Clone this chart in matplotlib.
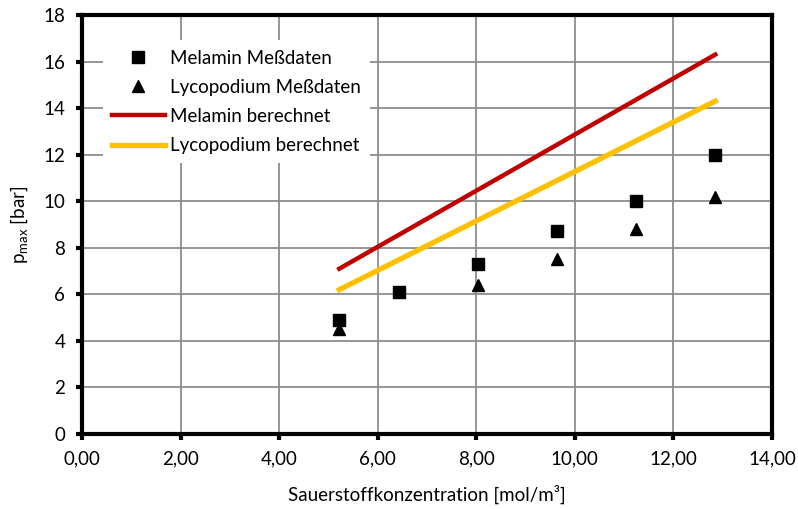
import matplotlib
matplotlib.use("Agg")
import matplotlib.pyplot as plt
from matplotlib.ticker import MultipleLocator, FuncFormatter

plt.rcParams['font.family'] = ['Lato', 'DejaVu Sans']

# Measured maximum explosion pressures
melamin_x = [5.22, 6.43, 8.03, 9.64, 11.24, 12.85]
melamin_p = [4.9, 6.1, 7.3, 8.7, 10.0, 12.0]
lyco_x = [5.22, 8.03, 9.64, 11.24, 12.85]
lyco_p = [4.5, 6.4, 7.5, 8.8, 10.2]

# Calculated pressures (straight lines between end points)
melamin_calc_x = [5.22, 12.85]
melamin_calc_p = [7.1, 16.3]
lyco_calc_x = [5.22, 12.85]
lyco_calc_p = [6.2, 14.3]

fs = 13.5

fig = plt.figure(figsize=(7.98, 5.09), dpi=100)
ax = fig.add_axes([82 / 798, 1 - 434 / 509, 690 / 798, 419 / 509])

ax.plot(melamin_x, melamin_p, linestyle='none', marker='s', color='black',
        markersize=9, label='Melamin Meßdaten', zorder=4)
ax.plot(lyco_x, lyco_p, linestyle='none', marker='^', color='black',
        markersize=9, label='Lycopodium Meßdaten', zorder=4)
ax.plot(melamin_calc_x, melamin_calc_p, color='#C00000', linewidth=3.2,
        label='Melamin berechnet', zorder=3)
ax.plot(lyco_calc_x, lyco_calc_p, color='#FFC000', linewidth=3.8,
        label='Lycopodium berechnet', zorder=3)

ax.set_xlim(0, 14)
ax.set_ylim(0, 18)
ax.xaxis.set_major_locator(MultipleLocator(2))
ax.yaxis.set_major_locator(MultipleLocator(2))
ax.xaxis.set_major_formatter(FuncFormatter(lambda v, p: f"{v:.2f}".replace('.', ',')))
ax.yaxis.set_major_formatter(FuncFormatter(lambda v, p: f"{v:.0f}"))

ax.grid(True, color='#8c8c8c', linewidth=1.3)
ax.set_axisbelow(True)
for s in ax.spines.values():
    s.set_linewidth(3)
    s.set_color('black')
ax.tick_params(axis='both', direction='out', length=4, width=3,
               labelsize=fs, colors='black', pad=8)

ax.set_xlabel('Sauerstoffkonzentration [mol/m³]', fontsize=fs, labelpad=12)
ax.set_ylabel(r'p$_{\mathregular{max}}$ [bar]', fontsize=fs, labelpad=10)

leg = ax.legend(loc='upper left', bbox_to_anchor=(0.03, 0.94), frameon=True,
                fontsize=fs, handlelength=2.8, handletextpad=0.3,
                labelspacing=0.65, borderpad=0.5, borderaxespad=0)
leg.get_frame().set_edgecolor('none')
leg.get_frame().set_facecolor('white')
leg.get_frame().set_alpha(1)

fig.savefig('out.png', dpi=100)
